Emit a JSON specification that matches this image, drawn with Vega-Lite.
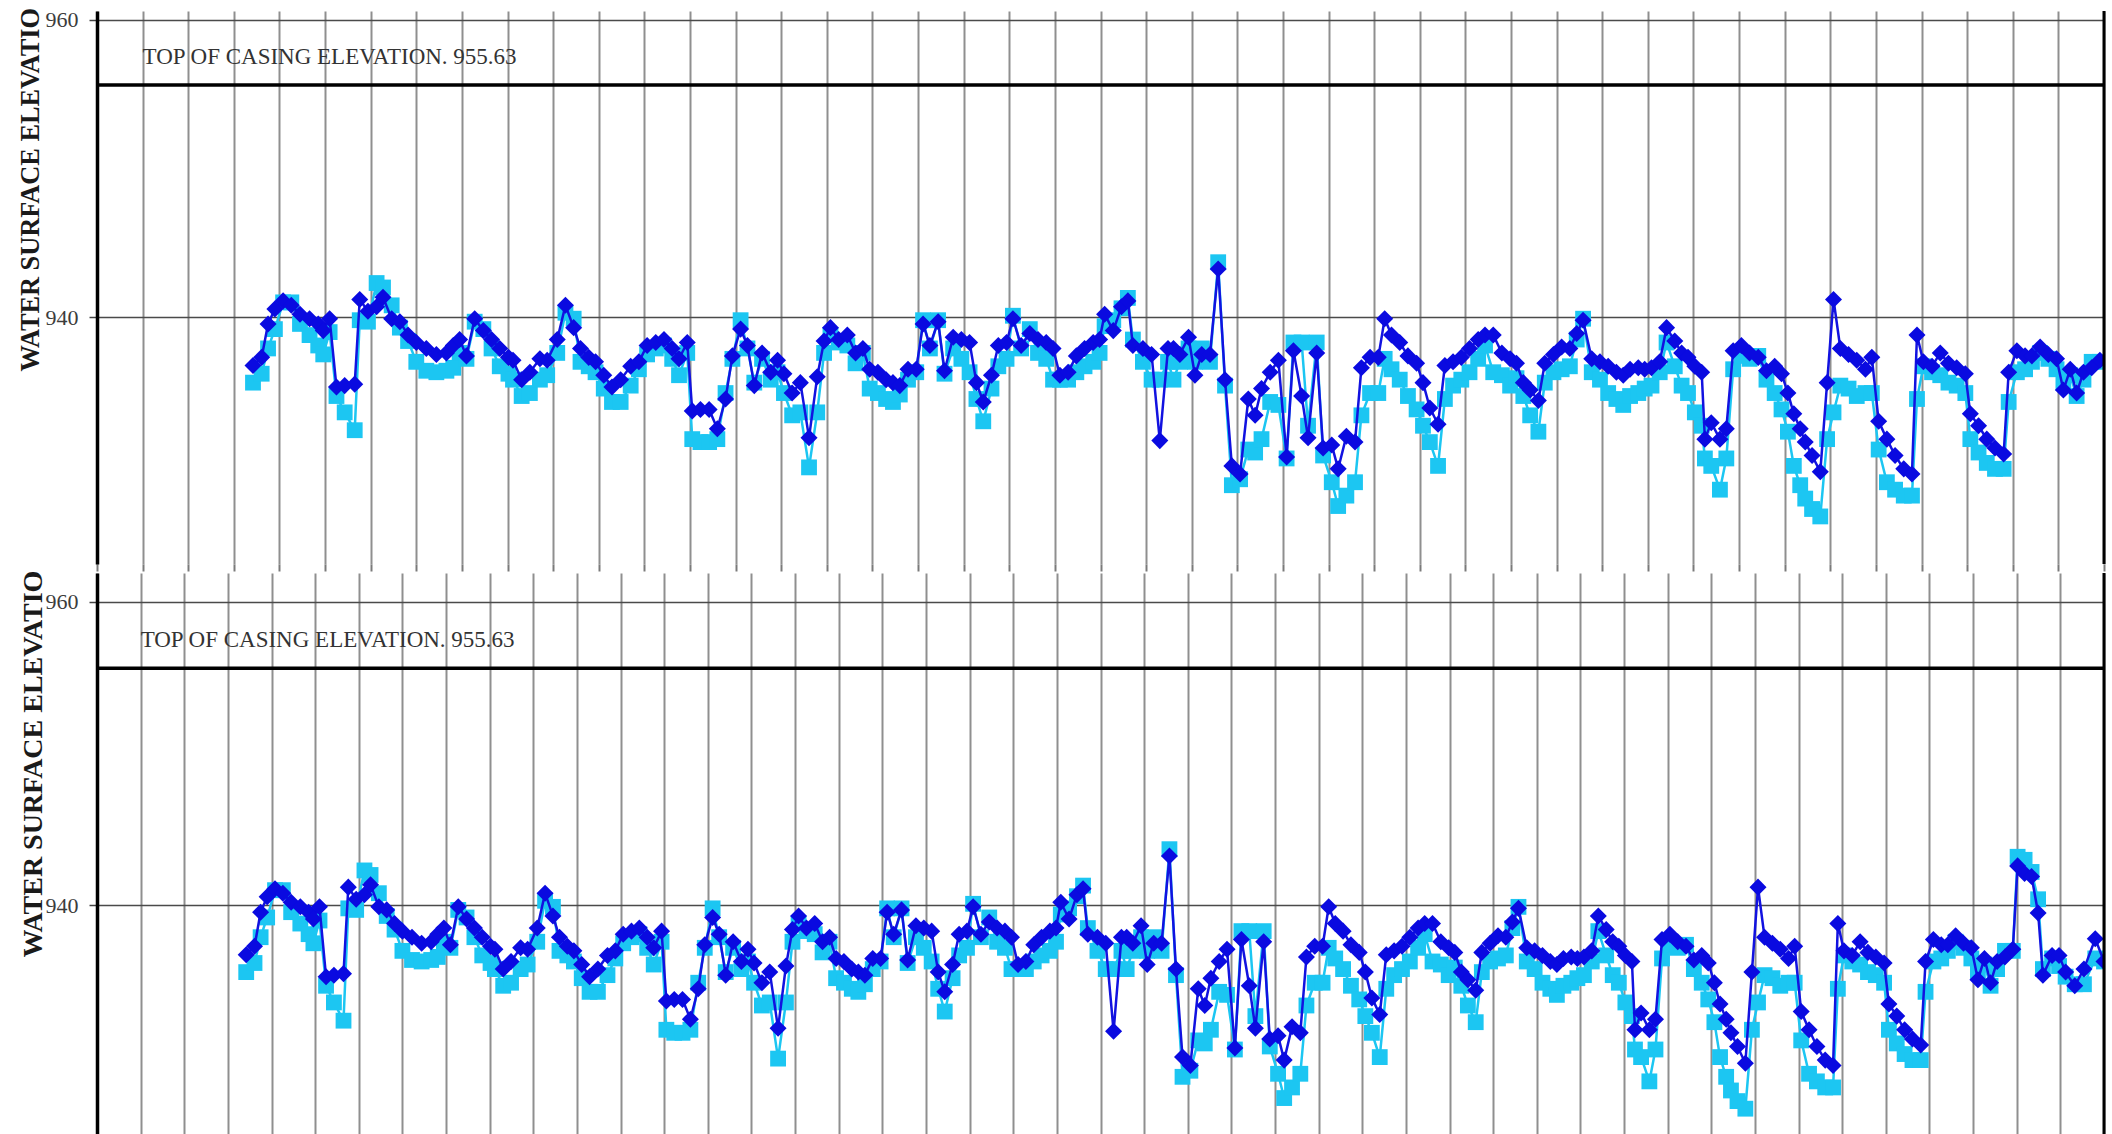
{
  "$schema": "https://vega.github.io/schema/vega-lite/v6.json",
  "background": "white",
  "padding": {"left": 17, "top": 7, "right": 6, "bottom": 0},
  "bounds": "flush",
  "spacing": 9,
  "config": {"view": {"stroke": null}},
  "datasets": {
    "levels": [
      {"t":3.42,"b":936.75,"c":935.6},{"t":3.61,"b":937.3,"c":936.2},{"t":3.75,"b":939.55,"c":937.9},{"t":3.90,"b":940.56,"c":939.2},
      {"t":4.08,"b":941.1,"c":941.0},{"t":4.26,"b":940.8,"c":941.0},{"t":4.45,"b":940.2,"c":939.55},{"t":4.66,"b":939.9,"c":938.8},
      {"t":4.85,"b":939.55,"c":938.1},{"t":4.96,"b":939.1,"c":937.5},{"t":5.10,"b":939.9,"c":939.0},{"t":5.25,"b":935.3,"c":934.7},
      {"t":5.43,"b":935.4,"c":933.6},{"t":5.65,"b":935.5,"c":932.4},{"t":5.76,"b":941.2,"c":939.8},{"t":5.94,"b":940.4,"c":939.7},
      {"t":6.13,"b":940.7,"c":942.3},{"t":6.27,"b":941.35,"c":942.0},{"t":6.46,"b":939.9,"c":940.8},{"t":6.64,"b":939.7,"c":939.3},
      {"t":6.82,"b":938.8,"c":938.4},{"t":7.00,"b":938.3,"c":937.0},{"t":7.22,"b":937.9,"c":936.4},{"t":7.44,"b":937.5,"c":936.3},
      {"t":7.66,"b":937.6,"c":936.4},{"t":7.81,"b":938.1,"c":936.6},{"t":7.95,"b":938.5,"c":937.6},{"t":8.10,"b":937.4,"c":937.2},
      {"t":8.28,"b":939.9,"c":939.7},{"t":8.47,"b":939.1,"c":939.2},{"t":8.65,"b":938.5,"c":937.9},{"t":8.83,"b":937.9,"c":936.7},
      {"t":9.02,"b":937.3,"c":936.2},{"t":9.12,"b":937.1,"c":935.8},{"t":9.31,"b":935.8,"c":934.7},{"t":9.49,"b":936.3,"c":934.9},
      {"t":9.71,"b":937.2,"c":935.8},{"t":9.87,"b":937.1,"c":936.1},{"t":10.09,"b":938.5,"c":937.6},{"t":10.27,"b":940.8,"c":940.3},
      {"t":10.45,"b":939.3,"c":939.9},{"t":10.60,"b":937.9,"c":937.0},{"t":10.78,"b":937.3,"c":936.7},{"t":10.93,"b":937.0,"c":936.3},
      {"t":11.11,"b":936.1,"c":935.2},{"t":11.29,"b":935.3,"c":934.3},{"t":11.48,"b":935.8,"c":934.3},{"t":11.70,"b":936.7,"c":935.4},
      {"t":11.88,"b":937.0,"c":936.5},{"t":12.06,"b":938.1,"c":937.5},{"t":12.25,"b":938.3,"c":937.9},{"t":12.43,"b":938.5,"c":938.1},
      {"t":12.61,"b":937.9,"c":937.2},{"t":12.76,"b":937.2,"c":936.1},{"t":12.94,"b":938.3,"c":937.6},{"t":13.05,"b":933.7,"c":931.8},
      {"t":13.23,"b":933.8,"c":931.6},{"t":13.42,"b":933.8,"c":931.6},{"t":13.60,"b":932.5,"c":931.8},{"t":13.78,"b":934.5,"c":934.9},
      {"t":13.93,"b":937.4,"c":937.2},{"t":14.11,"b":939.2,"c":939.8},{"t":14.26,"b":938.1,"c":937.9},{"t":14.41,"b":935.4,"c":935.6},
      {"t":14.58,"b":937.6,"c":937.2},{"t":14.77,"b":936.3,"c":935.8},{"t":14.92,"b":937.1,"c":936.3},{"t":15.06,"b":936.2,"c":934.9},
      {"t":15.24,"b":934.9,"c":933.4},{"t":15.42,"b":935.6,"c":933.6},{"t":15.61,"b":931.9,"c":929.9},{"t":15.79,"b":936.0,"c":933.6},
      {"t":15.94,"b":938.4,"c":937.6},{"t":16.08,"b":939.3,"c":938.8},{"t":16.26,"b":938.5,"c":938.3},{"t":16.45,"b":938.8,"c":938.1},
      {"t":16.63,"b":937.6,"c":936.9},{"t":16.79,"b":937.9,"c":937.6},{"t":16.94,"b":936.5,"c":935.2},{"t":17.12,"b":936.3,"c":934.9},
      {"t":17.30,"b":935.8,"c":934.5},{"t":17.45,"b":935.6,"c":934.3},{"t":17.60,"b":935.4,"c":934.8},{"t":17.78,"b":936.5,"c":935.8},
      {"t":17.96,"b":936.5,"c":936.3},{"t":18.11,"b":939.55,"c":939.8},{"t":18.26,"b":938.1,"c":937.9},{"t":18.44,"b":939.7,"c":939.8},
      {"t":18.58,"b":936.4,"c":936.2},{"t":18.77,"b":938.65,"c":937.9},{"t":18.95,"b":938.5,"c":937.2},{"t":19.13,"b":938.3,"c":936.3},
      {"t":19.28,"b":935.6,"c":934.5},{"t":19.43,"b":934.3,"c":933.0},{"t":19.61,"b":936.1,"c":935.2},{"t":19.76,"b":938.1,"c":936.7},
      {"t":19.94,"b":938.3,"c":937.2},{"t":20.08,"b":939.9,"c":940.1},{"t":20.26,"b":938.1,"c":937.9},{"t":20.45,"b":938.9,"c":939.2},
      {"t":20.63,"b":938.5,"c":937.6},{"t":20.81,"b":938.3,"c":937.2},{"t":20.96,"b":937.9,"c":935.8},{"t":21.11,"b":936.1,"c":935.8},
      {"t":21.29,"b":936.3,"c":935.8},{"t":21.47,"b":937.4,"c":936.3},{"t":21.65,"b":937.9,"c":936.7},{"t":21.84,"b":938.3,"c":937.0},
      {"t":21.98,"b":938.5,"c":937.6},{"t":22.09,"b":940.2,"c":939.4},{"t":22.28,"b":939.1,"c":939.8},{"t":22.46,"b":940.7,"c":940.6},
      {"t":22.60,"b":941.1,"c":941.3},{"t":22.71,"b":938.1,"c":938.5},{"t":22.93,"b":937.9,"c":937.0},{"t":23.12,"b":937.5,"c":935.8},
      {"t":23.30,"b":931.7,"c":935.8},{"t":23.48,"b":937.9,"c":937.0},{"t":23.60,"b":937.9,"c":935.8},{"t":23.74,"b":937.5,"c":937.0},
      {"t":23.93,"b":938.65,"c":937.9},{"t":24.07,"b":936.1,"c":937.0},{"t":24.22,"b":937.5,"c":937.9},{"t":24.40,"b":937.5,"c":937.0},
      {"t":24.58,"b":943.25,"c":943.7},{"t":24.73,"b":935.8,"c":935.4},{"t":24.88,"b":930.0,"c":928.7},{"t":25.06,"b":929.45,"c":929.1},
      {"t":25.24,"b":934.5,"c":931.1},{"t":25.39,"b":933.4,"c":930.9},{"t":25.53,"b":935.2,"c":931.8},{"t":25.72,"b":936.3,"c":934.3},
      {"t":25.90,"b":937.1,"c":934.1},{"t":26.08,"b":930.6,"c":930.5},{"t":26.23,"b":937.75,"c":938.3},{"t":26.41,"b":934.7,"c":938.3},
      {"t":26.55,"b":931.9,"c":932.7},{"t":26.74,"b":937.6,"c":938.3},{"t":26.88,"b":931.2,"c":930.7},{"t":27.07,"b":931.4,"c":928.9},
      {"t":27.21,"b":929.8,"c":927.3},{"t":27.39,"b":932.0,"c":928.0},{"t":27.58,"b":931.6,"c":928.9},{"t":27.72,"b":936.6,"c":933.4},
      {"t":27.91,"b":937.3,"c":934.9},{"t":28.09,"b":937.3,"c":934.9},{"t":28.23,"b":939.9,"c":937.2},{"t":28.38,"b":938.8,"c":936.5},
      {"t":28.56,"b":938.3,"c":935.8},{"t":28.74,"b":937.4,"c":934.7},{"t":28.93,"b":936.9,"c":933.8},{"t":29.07,"b":935.6,"c":932.7},
      {"t":29.22,"b":933.9,"c":931.6},{"t":29.40,"b":932.8,"c":930.0},{"t":29.55,"b":936.75,"c":934.5},{"t":29.73,"b":937.0,"c":935.4},
      {"t":29.91,"b":937.3,"c":935.8},{"t":30.09,"b":937.9,"c":936.3},{"t":30.28,"b":938.5,"c":937.2},{"t":30.43,"b":938.8,"c":938.1},
      {"t":30.61,"b":938.8,"c":936.3},{"t":30.80,"b":937.6,"c":936.1},{"t":30.98,"b":937.2,"c":935.4},{"t":31.12,"b":936.9,"c":935.9},
      {"t":31.27,"b":935.6,"c":934.7},{"t":31.42,"b":935.1,"c":933.4},{"t":31.60,"b":934.4,"c":932.3},{"t":31.74,"b":936.9,"c":935.6},
      {"t":31.93,"b":937.5,"c":936.3},{"t":32.11,"b":938.0,"c":936.5},{"t":32.29,"b":937.9,"c":936.7},{"t":32.44,"b":938.9,"c":938.5},
      {"t":32.58,"b":939.8,"c":939.9},{"t":32.77,"b":937.2,"c":936.3},{"t":32.95,"b":937.0,"c":935.8},{"t":33.13,"b":936.7,"c":934.9},
      {"t":33.31,"b":936.3,"c":934.5},{"t":33.46,"b":936.1,"c":934.1},{"t":33.61,"b":936.5,"c":934.7},{"t":33.79,"b":936.6,"c":934.9},
      {"t":33.93,"b":936.5,"c":935.2},{"t":34.08,"b":936.6,"c":935.4},{"t":34.26,"b":937.0,"c":936.3},{"t":34.41,"b":939.3,"c":938.3},
      {"t":34.59,"b":938.4,"c":936.7},{"t":34.74,"b":937.6,"c":935.4},{"t":34.88,"b":937.3,"c":934.9},{"t":35.03,"b":936.7,"c":933.6},
      {"t":35.18,"b":936.3,"c":932.7},{"t":35.25,"b":931.8,"c":930.5},{"t":35.39,"b":932.9,"c":930.0},{"t":35.58,"b":931.8,"c":928.4},
      {"t":35.72,"b":932.5,"c":930.5},{"t":35.87,"b":937.75,"c":936.5},{"t":36.05,"b":938.1,"c":937.4},{"t":36.23,"b":937.6,"c":937.2},
      {"t":36.42,"b":937.3,"c":937.4},{"t":36.60,"b":936.4,"c":935.8},{"t":36.78,"b":936.7,"c":934.9},{"t":36.93,"b":936.2,"c":933.8},
      {"t":37.07,"b":934.9,"c":932.3},{"t":37.20,"b":933.5,"c":930.0},{"t":37.34,"b":932.5,"c":928.7},{"t":37.45,"b":931.6,"c":927.8},
      {"t":37.60,"b":930.7,"c":927.1},{"t":37.78,"b":929.6,"c":926.6},{"t":37.93,"b":935.6,"c":931.8},{"t":38.07,"b":941.2,"c":933.6},
      {"t":38.22,"b":937.9,"c":935.4},{"t":38.40,"b":937.5,"c":935.2},{"t":38.58,"b":937.1,"c":934.7},{"t":38.77,"b":936.5,"c":934.9},
      {"t":38.91,"b":937.3,"c":934.9},{"t":39.06,"b":933.0,"c":931.1},{"t":39.24,"b":931.8,"c":928.9},{"t":39.42,"b":930.7,"c":928.4},
      {"t":39.61,"b":929.8,"c":928.0},{"t":39.79,"b":929.45,"c":928.0},{"t":39.90,"b":938.8,"c":934.5},{"t":40.04,"b":937.0,"c":936.7},
      {"t":40.23,"b":936.7,"c":936.3},{"t":40.41,"b":937.6,"c":936.1},{"t":40.59,"b":936.9,"c":935.6},{"t":40.77,"b":936.6,"c":935.4},
      {"t":40.96,"b":936.2,"c":934.9},{"t":41.07,"b":933.5,"c":931.8},{"t":41.25,"b":932.7,"c":930.9},{"t":41.43,"b":931.8,"c":930.2},
      {"t":41.61,"b":931.2,"c":929.8},{"t":41.80,"b":930.8,"c":929.8},{"t":41.91,"b":936.3,"c":934.3},{"t":42.09,"b":937.75,"c":936.3},
      {"t":42.27,"b":937.4,"c":936.5},{"t":42.42,"b":937.4,"c":937.0},{"t":42.60,"b":938.0,"c":937.6},{"t":42.78,"b":937.5,"c":937.2},
      {"t":42.96,"b":937.2,"c":936.5},{"t":43.11,"b":935.1,"c":935.6},{"t":43.26,"b":936.5,"c":936.1},{"t":43.40,"b":934.9,"c":934.7},
      {"t":43.55,"b":936.3,"c":935.8},{"t":43.73,"b":936.6,"c":937.0},{"t":43.91,"b":937.1,"c":937.0},{"t":44.02,"b":942.6,"c":943.2},
      {"t":44.18,"b":942.1,"c":943.0},{"t":44.34,"b":941.9,"c":942.2},{"t":44.49,"b":939.5,"c":940.4},{"t":44.60,"b":935.4,"c":935.8},
      {"t":44.81,"b":936.7,"c":936.5},{"t":44.97,"b":936.7,"c":936.0},{"t":45.12,"b":935.6,"c":935.3},{"t":45.33,"b":934.7,"c":934.8},
      {"t":45.54,"b":935.8,"c":934.8},{"t":45.80,"b":937.8,"c":936.5},{"t":46.00,"b":936.3,"c":936.3}
    ],
    "casing": [{"elev": 955.63, "label": "TOP OF CASING ELEVATION. 955.63", "t": 1}]
  },
  "vconcat": [
    {
      "width": 2007,
      "height": 553,
      "layer": [
        {
          "data": {"name": "casing"},
          "mark": {"type": "rule", "color": "#000000", "strokeWidth": 3.5},
          "encoding": {
            "y": {"field": "elev", "type": "quantitative", "scale": {"domain": [923.4, 960.6], "nice": false, "zero": false},
              "axis": {"values": [940, 960], "grid": true, "gridColor": "#4a4a4a", "gridWidth": 1.5, "domain": true, "domainColor": "#000000", "domainWidth": 3.5,
                "ticks": true, "tickSize": 8, "tickColor": "#444444", "tickWidth": 1.5, "labelFont": "Liberation Serif", "labelFontSize": 22, "labelColor": "#3c3c3c", "labelPadding": 11,
                "title": "WATER SURFACE ELEVATIO", "titleFont": "Liberation Serif", "titleFontWeight": "bold", "titleFontSize": 26.3, "titleColor": "#1a1a1a",
                "titleAngle": -90, "titleAlign": "left", "titleBaseline": "top", "titleX": -80, "titleY": 360}}
          }
        },
        {
          "data": {"name": "casing"},
          "mark": {"type": "text", "font": "Liberation Serif", "fontSize": 23, "color": "#333333", "align": "left", "baseline": "middle", "dy": -28},
          "encoding": {
            "x": {"field": "t", "type": "quantitative", "scale": {"domain": [0, 44], "nice": false, "zero": false},
              "axis": {"tickCount": 44, "grid": true, "gridColor": "#8f8f8f", "gridWidth": 2, "labels": false, "ticks": true, "tickSize": 7, "tickColor": "#7a7a7a", "tickWidth": 2, "domain": false, "title": null}},
            "y": {"field": "elev", "type": "quantitative"},
            "text": {"field": "label"}
          }
        },
        {
          "data": {"name": "levels"},
          "transform": [{"filter": "datum.t < 44"}, {"fold": ["c", "b"], "as": ["series", "elev"]}, {"filter": "datum.series == 'c'"}],
          "mark": {"type": "line", "color": "#1cc6f2", "strokeWidth": 2.5, "clip": true},
          "encoding": {"x": {"field": "t", "type": "quantitative"}, "y": {"field": "elev", "type": "quantitative"}}
        },
        {
          "data": {"name": "levels"},
          "transform": [{"filter": "datum.t < 44"}, {"fold": ["c", "b"], "as": ["series", "elev"]}, {"filter": "datum.series == 'c'"}],
          "mark": {"type": "point", "shape": "square", "filled": true, "size": 250, "color": "#1cc6f2", "opacity": 1, "clip": true},
          "encoding": {"x": {"field": "t", "type": "quantitative"}, "y": {"field": "elev", "type": "quantitative"}}
        },
        {
          "data": {"name": "levels"},
          "transform": [{"filter": "datum.t < 44"}, {"fold": ["c", "b"], "as": ["series", "elev"]}, {"filter": "datum.series == 'b'"}],
          "mark": {"type": "line", "color": "#1212e0", "strokeWidth": 2.5, "clip": true},
          "encoding": {"x": {"field": "t", "type": "quantitative"}, "y": {"field": "elev", "type": "quantitative"}}
        },
        {
          "data": {"name": "levels"},
          "transform": [{"filter": "datum.t < 44"}, {"fold": ["c", "b"], "as": ["series", "elev"]}, {"filter": "datum.series == 'b'"}],
          "mark": {"type": "point", "shape": "diamond", "filled": true, "size": 290, "color": "#0a0ae0", "opacity": 1, "clip": true},
          "encoding": {"x": {"field": "t", "type": "quantitative"}, "y": {"field": "elev", "type": "quantitative"}}
        },
        {
          "data": {"name": "casing"},
          "mark": {"type": "rule", "color": "#000000", "strokeWidth": 3},
          "encoding": {"x": {"datum": 44, "type": "quantitative"}}
        }
      ]
    },
    {
      "width": 2007,
      "height": 563,
      "layer": [
        {
          "data": {"name": "casing"},
          "mark": {"type": "rule", "color": "#000000", "strokeWidth": 3.5},
          "encoding": {
            "y": {"field": "elev", "type": "quantitative", "scale": {"domain": [924.8, 961.9], "nice": false, "zero": false},
              "axis": {"values": [940, 960], "grid": true, "gridColor": "#4a4a4a", "gridWidth": 1.5, "domain": true, "domainColor": "#000000", "domainWidth": 3.5,
                "ticks": true, "tickSize": 8, "tickColor": "#444444", "tickWidth": 1.5, "labelFont": "Liberation Serif", "labelFontSize": 22, "labelColor": "#3c3c3c", "labelPadding": 11,
                "title": "WATER SURFACE ELEVATIO", "titleFont": "Liberation Serif", "titleFontWeight": "bold", "titleFontSize": 28, "titleColor": "#1a1a1a",
                "titleAngle": -90, "titleAlign": "left", "titleBaseline": "top", "titleX": -78, "titleY": 384}}
          }
        },
        {
          "data": {"name": "casing"},
          "mark": {"type": "text", "font": "Liberation Serif", "fontSize": 23, "color": "#333333", "align": "left", "baseline": "middle", "dy": -28},
          "encoding": {
            "x": {"field": "t", "type": "quantitative", "scale": {"domain": [0, 46], "nice": false, "zero": false},
              "axis": {"tickCount": 46, "grid": true, "gridColor": "#8f8f8f", "gridWidth": 2, "labels": false, "ticks": false, "domain": false, "title": null}},
            "y": {"field": "elev", "type": "quantitative"},
            "text": {"field": "label"}
          }
        },
        {
          "data": {"name": "levels"},
          "transform": [{"fold": ["c", "b"], "as": ["series", "elev"]}, {"filter": "datum.series == 'c'"}],
          "mark": {"type": "line", "color": "#1cc6f2", "strokeWidth": 2.5, "clip": true},
          "encoding": {"x": {"field": "t", "type": "quantitative"}, "y": {"field": "elev", "type": "quantitative"}}
        },
        {
          "data": {"name": "levels"},
          "transform": [{"fold": ["c", "b"], "as": ["series", "elev"]}, {"filter": "datum.series == 'c'"}],
          "mark": {"type": "point", "shape": "square", "filled": true, "size": 250, "color": "#1cc6f2", "opacity": 1, "clip": true},
          "encoding": {"x": {"field": "t", "type": "quantitative"}, "y": {"field": "elev", "type": "quantitative"}}
        },
        {
          "data": {"name": "levels"},
          "transform": [{"fold": ["c", "b"], "as": ["series", "elev"]}, {"filter": "datum.series == 'b'"}],
          "mark": {"type": "line", "color": "#1212e0", "strokeWidth": 2.5, "clip": true},
          "encoding": {"x": {"field": "t", "type": "quantitative"}, "y": {"field": "elev", "type": "quantitative"}}
        },
        {
          "data": {"name": "levels"},
          "transform": [{"fold": ["c", "b"], "as": ["series", "elev"]}, {"filter": "datum.series == 'b'"}],
          "mark": {"type": "point", "shape": "diamond", "filled": true, "size": 290, "color": "#0a0ae0", "opacity": 1, "clip": true},
          "encoding": {"x": {"field": "t", "type": "quantitative"}, "y": {"field": "elev", "type": "quantitative"}}
        },
        {
          "data": {"name": "casing"},
          "mark": {"type": "rule", "color": "#000000", "strokeWidth": 3},
          "encoding": {"x": {"datum": 46, "type": "quantitative"}}
        }
      ]
    }
  ]
}
